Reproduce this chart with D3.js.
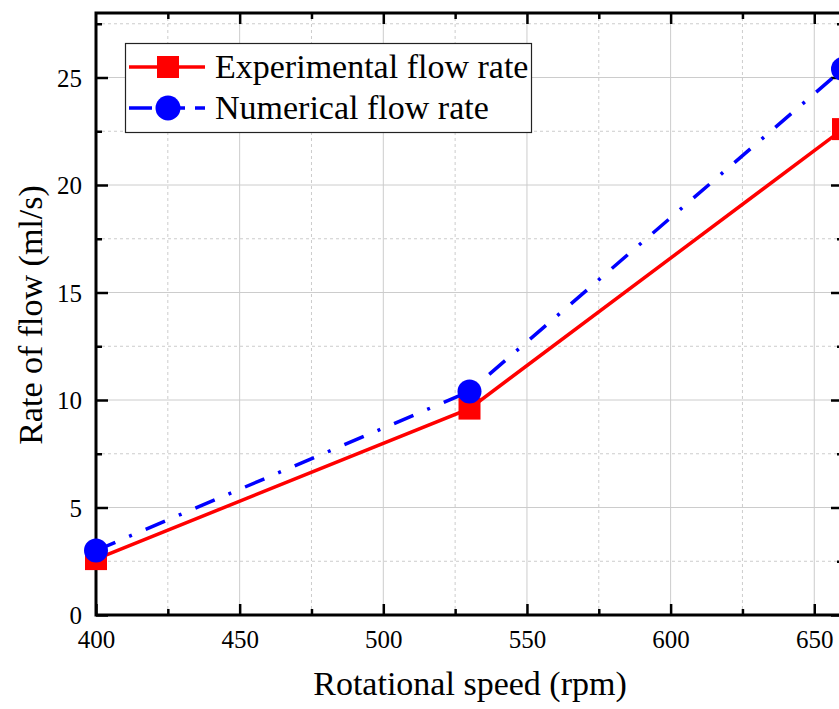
<!DOCTYPE html>
<html>
<head>
<meta charset="utf-8">
<script src="https://cdn.jsdelivr.net/npm/d3@7/dist/d3.min.js"></script>
<style>
  body { margin: 0; background: #fff; }
  svg { display: block; }
  svg text { font-family: "Liberation Serif", "DejaVu Serif", serif; fill: #000; }
</style>
</head>
<body>
<script>
// data
var speeds = [400, 530, 660];
var experimental = [2.6, 9.6, 22.6];
var numerical = [3.0, 10.4, 25.4];
var seriesNames = ["Experimental flow rate", "Numerical flow rate"];
var xMajor = [400, 450, 500, 550, 600, 650];
var xMinor = [425, 475, 525, 575, 625];
var yMajor = [0, 5, 10, 15, 20, 25];
var yMinor = [2.5, 7.5, 12.5, 17.5, 22.5, 27.5];

var W = 839, H = 709,
    margin = {top: 13, left: 96, bottom: 94},
    col = {exp: "#ff0000", num: "#0000ff", grid: "#cccccc", axis: "#000"};

var svg = d3.select("body").append("svg")
    .attr("width", W)
    .attr("height", H);

var x = d3.scaleLinear().domain([400, 660]).range([margin.left, 843]);
var y = d3.scaleLinear().domain([0, 28]).range([H - margin.bottom, margin.top]);

var x0 = x(400), x1 = x(660), y0 = y(0), y1 = y(28);

// grid
var grid = svg.append("g");
grid.selectAll(".gxm").data(xMajor.slice(1)).enter().append("line")
    .attr("x1", d => x(d)).attr("x2", d => x(d)).attr("y1", y0).attr("y2", y1)
    .attr("stroke", col.grid).attr("stroke-width", 1);
grid.selectAll(".gxn").data(xMinor).enter().append("line")
    .attr("x1", d => x(d)).attr("x2", d => x(d)).attr("y1", y0).attr("y2", y1)
    .attr("stroke", col.grid).attr("stroke-width", 1).attr("stroke-dasharray", "3,3");
grid.selectAll(".gym").data(yMajor.slice(1)).enter().append("line")
    .attr("y1", d => y(d)).attr("y2", d => y(d)).attr("x1", x0).attr("x2", x1)
    .attr("stroke", col.grid).attr("stroke-width", 1);
grid.selectAll(".gyn").data(yMinor).enter().append("line")
    .attr("y1", d => y(d)).attr("y2", d => y(d)).attr("x1", x0).attr("x2", x1)
    .attr("stroke", col.grid).attr("stroke-width", 1).attr("stroke-dasharray", "3,3");

// axes (ticks inward)
function styleAxis(g) {
    g.select(".domain").remove();
    g.selectAll(".tick line").attr("stroke", col.axis).attr("stroke-width", 2.5);
    g.selectAll(".tick text").attr("font-size", "25px").attr("font-family", null);
}
function minorAxis(axis, vals) {
    return axis.tickValues(vals).tickSize(-6).tickFormat("");
}

var xAxis = svg.append("g").attr("transform", "translate(0," + y0 + ")")
    .call(d3.axisBottom(x).tickValues(xMajor).tickSize(-11).tickFormat(d3.format("d")))
    .call(styleAxis);
xAxis.selectAll(".tick text").attr("y", 33).attr("dy", null);
svg.append("g").attr("transform", "translate(0," + y0 + ")")
    .call(minorAxis(d3.axisBottom(x), xMinor)).call(styleAxis);
svg.append("g").attr("transform", "translate(0," + y1 + ")")
    .call(d3.axisTop(x).tickValues(xMajor.slice(1)).tickSize(-11).tickFormat("")).call(styleAxis);
svg.append("g").attr("transform", "translate(0," + y1 + ")")
    .call(minorAxis(d3.axisTop(x), xMinor)).call(styleAxis);

var yAxis = svg.append("g").attr("transform", "translate(" + x0 + ",0)")
    .call(d3.axisLeft(y).tickValues(yMajor).tickSize(-12).tickFormat(d3.format("d")))
    .call(styleAxis);
yAxis.selectAll(".tick text").attr("x", -14).attr("dy", "0.35em");
svg.append("g").attr("transform", "translate(" + x0 + ",0)")
    .call(minorAxis(d3.axisLeft(y), yMinor)).call(styleAxis);
svg.append("g").attr("transform", "translate(" + x1 + ",0)")
    .call(d3.axisRight(y).tickValues(yMajor).tickSize(-12).tickFormat("")).call(styleAxis);
svg.append("g").attr("transform", "translate(" + x1 + ",0)")
    .call(minorAxis(d3.axisRight(y), yMinor)).call(styleAxis);

// frame
svg.append("rect")
    .attr("x", x0).attr("y", y1).attr("width", x1 - x0).attr("height", y0 - y1)
    .attr("fill", "none").attr("stroke", col.axis).attr("stroke-width", 3);

// axis titles
svg.append("text")
    .attr("x", 470).attr("y", 695)
    .attr("text-anchor", "middle")
    .attr("font-size", "34px")
    .text("Rotational speed (rpm)");
svg.append("text")
    .attr("transform", "translate(42," + 315 + ") rotate(-90)")
    .attr("text-anchor", "middle")
    .attr("font-size", "34px")
    .text("Rate of flow (ml/s)");

// lines + markers
var expData = speeds.map((s, i) => ({s: s, v: experimental[i]}));
var numData = speeds.map((s, i) => ({s: s, v: numerical[i]}));
var line = d3.line().x(d => x(d.s)).y(d => y(d.v));

var plot = svg.append("g");
plot.append("path").datum(expData).attr("d", line)
    .attr("fill", "none").attr("stroke", col.exp).attr("stroke-width", 3.5);
plot.selectAll(".sq").data(expData).enter().append("rect")
    .attr("x", d => x(d.s) - 11).attr("y", d => y(d.v) - 11)
    .attr("width", 22).attr("height", 22).attr("fill", col.exp);
plot.append("path").datum(numData).attr("d", line)
    .attr("fill", "none").attr("stroke", col.num).attr("stroke-width", 3.5)
    .attr("stroke-dasharray", "21,15,3,15");
plot.selectAll(".ci").data(numData).enter().append("circle")
    .attr("cx", d => x(d.s)).attr("cy", d => y(d.v))
    .attr("r", 12).attr("fill", col.num);

// legend
var lg = svg.append("g");
lg.append("rect").attr("x", 125.5).attr("y", 43.5).attr("width", 406).attr("height", 89)
    .attr("fill", "#fff").attr("stroke", "#222").attr("stroke-width", 1.2);
var rows = [
    {name: seriesNames[0], c: col.exp, shape: "square", dash: null, y: 67},
    {name: seriesNames[1], c: col.num, shape: "circle", dash: "23,10", y: 108}
];
rows.forEach(function(r) {
    lg.append("line").attr("x1", 129).attr("x2", 205).attr("y1", r.y).attr("y2", r.y)
        .attr("stroke", r.c).attr("stroke-width", 3.5)
        .attr("stroke-dasharray", r.dash);
    if (r.shape === "square") {
        lg.append("rect").attr("x", 157).attr("y", r.y - 11).attr("width", 22).attr("height", 22).attr("fill", r.c);
    } else {
        lg.append("circle").attr("cx", 168).attr("cy", r.y).attr("r", 12.5).attr("fill", r.c);
    }
    lg.append("text").attr("x", 215).attr("y", r.y + 11)
        .attr("font-size", "34px")
        .text(r.name);
});
</script>
</body>
</html>
